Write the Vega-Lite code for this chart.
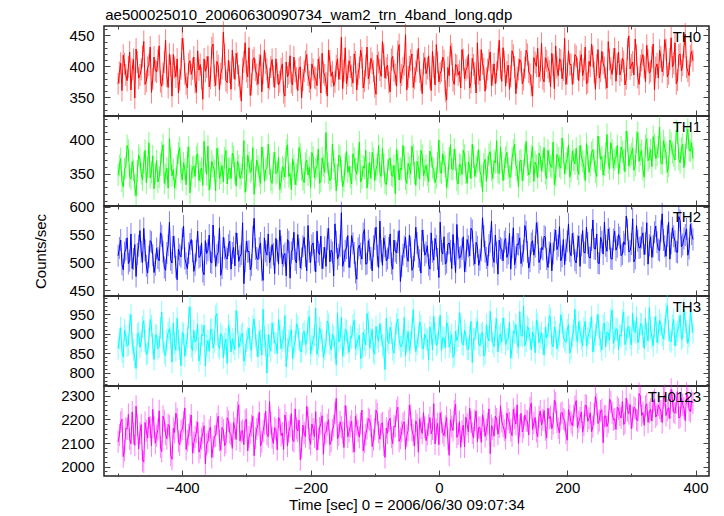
{
"$schema":"https://vega.github.io/schema/vega-lite/v6.json",
"padding":{"left":33,"top":8,"right":10,"bottom":5},
"title":{"text":"ae500025010_20060630090734_wam2_trn_4band_long.qdp","anchor":"start","dx":72,"offset":-3,"fontSize":15,"fontWeight":"normal","font":"Liberation Sans","color":"#000"},
"bounds":"flush",
"spacing":0,
"data":{"values":[
{"t":-500,"a":372,"b":348,"c":512,"d":862,"e":2105},
{"t":-496,"a":405,"b":372,"c":540,"d":915,"e":2188},
{"t":-492,"a":418,"b":331,"c":487,"d":840,"e":2042},
{"t":-488,"a":386,"b":360,"c":523,"d":893,"e":2163},
{"t":-484,"a":399,"b":384,"c":498,"d":871,"e":2221},
{"t":-480,"a":362,"b":342,"c":551,"d":948,"e":2097},
{"t":-476,"a":411,"b":355,"c":506,"d":858,"e":2140},
{"t":-472,"a":428,"b":318,"c":475,"d":811,"e":2256},
{"t":-468,"a":381,"b":377,"c":530,"d":902,"e":2075},
{"t":-464,"a":395,"b":350,"c":519,"d":879,"e":2178},
{"t":-460,"a":440,"b":366,"c":561,"d":933,"e":2019},
{"t":-456,"a":376,"b":337,"c":494,"d":846,"e":2152},
{"t":-452,"a":402,"b":395,"c":510,"d":887,"e":2210},
{"t":-448,"a":358,"b":352,"c":536,"d":920,"e":2088},
{"t":-444,"a":415,"b":328,"c":482,"d":834,"e":2167},
{"t":-440,"a":391,"b":369,"c":525,"d":897,"e":2131},
{"t":-436,"a":433,"b":345,"c":503,"d":866,"e":2237},
{"t":-432,"a":368,"b":381,"c":548,"d":955,"e":2064},
{"t":-428,"a":407,"b":336,"c":491,"d":851,"e":2195},
{"t":-424,"a":384,"b":358,"c":517,"d":884,"e":2118},
{"t":-420,"a":420,"b":401,"c":572,"d":912,"e":2172},
{"t":-416,"a":352,"b":347,"c":499,"d":827,"e":2031},
{"t":-412,"a":398,"b":329,"c":528,"d":875,"e":2145},
{"t":-408,"a":412,"b":363,"c":469,"d":939,"e":2203},
{"t":-404,"a":379,"b":388,"c":514,"d":860,"e":2092},
{"t":-400,"a":445,"b":341,"c":543,"d":903,"e":2158},
{"t":-396,"a":388,"b":356,"c":507,"d":842,"e":2249},
{"t":-392,"a":365,"b":374,"c":489,"d":889,"e":2110},
{"t":-388,"a":409,"b":322,"c":533,"d":968,"e":2176},
{"t":-384,"a":396,"b":359,"c":520,"d":856,"e":2057},
{"t":-380,"a":374,"b":346,"c":496,"d":878,"e":2124},
{"t":-376,"a":425,"b":379,"c":556,"d":925,"e":2189},
{"t":-372,"a":403,"b":353,"c":511,"d":848,"e":2079},
{"t":-368,"a":347,"b":333,"c":484,"d":895,"e":2141},
{"t":-364,"a":392,"b":367,"c":539,"d":817,"e":2012},
{"t":-360,"a":416,"b":390,"c":522,"d":882,"e":2106},
{"t":-356,"a":381,"b":344,"c":501,"d":910,"e":2168},
{"t":-352,"a":436,"b":361,"c":567,"d":863,"e":2083},
{"t":-348,"a":369,"b":325,"c":493,"d":944,"e":2130},
{"t":-344,"a":401,"b":372,"c":518,"d":869,"e":2214},
{"t":-340,"a":388,"b":351,"c":477,"d":900,"e":2069},
{"t":-336,"a":455,"b":338,"c":545,"d":838,"e":2155},
{"t":-332,"a":377,"b":384,"c":509,"d":886,"e":2101},
{"t":-328,"a":410,"b":357,"c":531,"d":921,"e":2192},
{"t":-324,"a":363,"b":343,"c":488,"d":853,"e":2136},
{"t":-320,"a":398,"b":375,"c":527,"d":874,"e":2187},
{"t":-316,"a":421,"b":332,"c":553,"d":959,"e":2115},
{"t":-312,"a":385,"b":362,"c":502,"d":864,"e":2262},
{"t":-308,"a":344,"b":349,"c":515,"d":896,"e":2148},
{"t":-304,"a":407,"b":398,"c":462,"d":829,"e":2093},
{"t":-300,"a":392,"b":341,"c":538,"d":881,"e":2201},
{"t":-296,"a":430,"b":366,"c":520,"d":914,"e":2126},
{"t":-292,"a":371,"b":355,"c":495,"d":857,"e":2173},
{"t":-288,"a":414,"b":320,"c":579,"d":937,"e":2046},
{"t":-284,"a":387,"b":370,"c":508,"d":870,"e":2159},
{"t":-280,"a":402,"b":347,"c":526,"d":906,"e":2231},
{"t":-276,"a":359,"b":389,"c":486,"d":845,"e":2104},
{"t":-272,"a":426,"b":339,"c":544,"d":891,"e":2181},
{"t":-268,"a":395,"b":358,"c":513,"d":799,"e":2137},
{"t":-264,"a":380,"b":364,"c":499,"d":868,"e":2276},
{"t":-260,"a":411,"b":336,"c":532,"d":927,"e":2122},
{"t":-256,"a":366,"b":381,"c":480,"d":876,"e":2165},
{"t":-252,"a":389,"b":352,"c":521,"d":850,"e":2071},
{"t":-248,"a":375,"b":327,"c":558,"d":908,"e":2198},
{"t":-244,"a":404,"b":360,"c":497,"d":882,"e":2143},
{"t":-240,"a":352,"b":345,"c":516,"d":946,"e":2219},
{"t":-236,"a":383,"b":392,"c":541,"d":861,"e":2087},
{"t":-232,"a":417,"b":350,"c":472,"d":894,"e":2170},
{"t":-228,"a":370,"b":371,"c":524,"d":835,"e":2112},
{"t":-224,"a":392,"b":334,"c":505,"d":880,"e":2245},
{"t":-220,"a":361,"b":356,"c":550,"d":918,"e":2151},
{"t":-216,"a":399,"b":379,"c":490,"d":855,"e":2029},
{"t":-212,"a":378,"b":342,"c":529,"d":899,"e":2176},
{"t":-208,"a":408,"b":365,"c":511,"d":872,"e":2127},
{"t":-204,"a":386,"b":348,"c":566,"d":930,"e":2206},
{"t":-200,"a":364,"b":330,"c":500,"d":848,"e":2094},
{"t":-196,"a":395,"b":374,"c":535,"d":885,"e":2160},
{"t":-192,"a":381,"b":357,"c":483,"d":965,"e":2233},
{"t":-188,"a":412,"b":386,"c":519,"d":866,"e":2118},
{"t":-184,"a":357,"b":339,"c":547,"d":903,"e":2184},
{"t":-180,"a":390,"b":362,"c":508,"d":839,"e":2052},
{"t":-176,"a":373,"b":410,"c":493,"d":877,"e":2146},
{"t":-172,"a":426,"b":351,"c":561,"d":923,"e":2199},
{"t":-168,"a":384,"b":343,"c":522,"d":858,"e":2108},
{"t":-164,"a":368,"b":368,"c":476,"d":892,"e":2173},
{"t":-160,"a":401,"b":325,"c":537,"d":820,"e":2289},
{"t":-156,"a":379,"b":377,"c":514,"d":879,"e":2134},
{"t":-152,"a":447,"b":354,"c":589,"d":942,"e":2167},
{"t":-148,"a":393,"b":340,"c":503,"d":869,"e":2081},
{"t":-144,"a":372,"b":383,"c":526,"d":907,"e":2212},
{"t":-140,"a":409,"b":361,"c":491,"d":852,"e":2149},
{"t":-136,"a":385,"b":335,"c":548,"d":888,"e":2193},
{"t":-132,"a":420,"b":372,"c":517,"d":934,"e":2062},
{"t":-128,"a":362,"b":349,"c":470,"d":873,"e":2177},
{"t":-124,"a":398,"b":396,"c":531,"d":896,"e":2125},
{"t":-120,"a":414,"b":344,"c":506,"d":841,"e":2240},
{"t":-116,"a":376,"b":358,"c":559,"d":884,"e":2103},
{"t":-112,"a":431,"b":329,"c":498,"d":951,"e":2162},
{"t":-108,"a":389,"b":366,"c":523,"d":863,"e":2198},
{"t":-104,"a":405,"b":381,"c":485,"d":910,"e":2085},
{"t":-100,"a":367,"b":340,"c":542,"d":847,"e":2157},
{"t":-96,"a":418,"b":363,"c":512,"d":890,"e":2224},
{"t":-92,"a":394,"b":352,"c":574,"d":926,"e":2116},
{"t":-88,"a":440,"b":387,"c":495,"d":871,"e":2186},
{"t":-84,"a":381,"b":337,"c":529,"d":808,"e":2039},
{"t":-80,"a":402,"b":355,"c":507,"d":883,"e":2141},
{"t":-76,"a":359,"b":373,"c":551,"d":916,"e":2205},
{"t":-72,"a":416,"b":346,"c":488,"d":859,"e":2097},
{"t":-68,"a":387,"b":321,"c":520,"d":898,"e":2169},
{"t":-64,"a":424,"b":369,"c":536,"d":937,"e":2252},
{"t":-60,"a":373,"b":358,"c":466,"d":867,"e":2120},
{"t":-56,"a":397,"b":391,"c":514,"d":881,"e":2182},
{"t":-52,"a":451,"b":342,"c":545,"d":843,"e":2074},
{"t":-48,"a":383,"b":365,"c":502,"d":905,"e":2153},
{"t":-44,"a":410,"b":350,"c":527,"d":876,"e":2218},
{"t":-40,"a":366,"b":378,"c":492,"d":961,"e":2133},
{"t":-36,"a":392,"b":333,"c":563,"d":854,"e":2194},
{"t":-32,"a":429,"b":360,"c":510,"d":893,"e":2061},
{"t":-28,"a":378,"b":384,"c":481,"d":920,"e":2164},
{"t":-24,"a":404,"b":347,"c":539,"d":862,"e":2229},
{"t":-20,"a":388,"b":362,"c":518,"d":887,"e":2110},
{"t":-16,"a":417,"b":338,"c":496,"d":832,"e":2175},
{"t":-12,"a":361,"b":375,"c":553,"d":901,"e":2139},
{"t":-8,"a":399,"b":356,"c":504,"d":944,"e":2267},
{"t":-4,"a":435,"b":344,"c":530,"d":870,"e":2156},
{"t":0,"a":375,"b":399,"c":473,"d":912,"e":2093},
{"t":4,"a":393,"b":351,"c":521,"d":856,"e":2188},
{"t":8,"a":409,"b":367,"c":546,"d":889,"e":2131},
{"t":12,"a":346,"b":330,"c":500,"d":928,"e":2209},
{"t":16,"a":385,"b":373,"c":535,"d":865,"e":2048},
{"t":20,"a":420,"b":357,"c":489,"d":897,"e":2170},
{"t":24,"a":371,"b":386,"c":515,"d":845,"e":2236},
{"t":28,"a":401,"b":341,"c":568,"d":882,"e":2124},
{"t":32,"a":392,"b":364,"c":508,"d":953,"e":2191},
{"t":36,"a":427,"b":349,"c":524,"d":874,"e":2150},
{"t":40,"a":380,"b":377,"c":483,"d":908,"e":2083},
{"t":44,"a":398,"b":336,"c":541,"d":860,"e":2179},
{"t":48,"a":365,"b":359,"c":512,"d":894,"e":2247},
{"t":52,"a":413,"b":393,"c":557,"d":826,"e":2142},
{"t":56,"a":389,"b":346,"c":497,"d":885,"e":2197},
{"t":60,"a":438,"b":368,"c":528,"d":932,"e":2106},
{"t":64,"a":377,"b":353,"c":505,"d":868,"e":2165},
{"t":68,"a":404,"b":324,"c":580,"d":903,"e":2220},
{"t":72,"a":360,"b":371,"c":519,"d":849,"e":2128},
{"t":76,"a":395,"b":360,"c":494,"d":891,"e":2183},
{"t":80,"a":423,"b":382,"c":537,"d":957,"e":2055},
{"t":84,"a":386,"b":343,"c":511,"d":877,"e":2161},
{"t":88,"a":372,"b":366,"c":549,"d":913,"e":2214},
{"t":92,"a":411,"b":352,"c":479,"d":853,"e":2137},
{"t":96,"a":397,"b":389,"c":526,"d":899,"e":2258},
{"t":100,"a":430,"b":340,"c":503,"d":940,"e":2172},
{"t":104,"a":368,"b":374,"c":543,"d":872,"e":2119},
{"t":108,"a":402,"b":358,"c":516,"d":886,"e":2201},
{"t":112,"a":384,"b":345,"c":488,"d":837,"e":2153},
{"t":116,"a":418,"b":384,"c":562,"d":906,"e":2243},
{"t":120,"a":356,"b":363,"c":509,"d":923,"e":2180},
{"t":124,"a":395,"b":331,"c":532,"d":864,"e":2098},
{"t":128,"a":407,"b":370,"c":498,"d":895,"e":2226},
{"t":132,"a":379,"b":355,"c":521,"d":970,"e":2167},
{"t":136,"a":426,"b":397,"c":555,"d":881,"e":2195},
{"t":140,"a":391,"b":348,"c":490,"d":911,"e":2134},
{"t":144,"a":369,"b":376,"c":534,"d":858,"e":2270},
{"t":148,"a":414,"b":339,"c":513,"d":892,"e":2185},
{"t":152,"a":400,"b":362,"c":571,"d":935,"e":2149},
{"t":156,"a":383,"b":380,"c":500,"d":876,"e":2212},
{"t":160,"a":437,"b":354,"c":527,"d":902,"e":2176},
{"t":164,"a":375,"b":388,"c":547,"d":845,"e":2238},
{"t":168,"a":409,"b":343,"c":506,"d":889,"e":2121},
{"t":172,"a":392,"b":369,"c":518,"d":946,"e":2204},
{"t":176,"a":421,"b":359,"c":485,"d":873,"e":2160},
{"t":180,"a":364,"b":334,"c":540,"d":917,"e":2282},
{"t":184,"a":398,"b":378,"c":523,"d":861,"e":2189},
{"t":188,"a":412,"b":361,"c":564,"d":898,"e":2143},
{"t":192,"a":380,"b":402,"c":511,"d":927,"e":2231},
{"t":196,"a":445,"b":350,"c":496,"d":883,"e":2196},
{"t":200,"a":388,"b":372,"c":538,"d":909,"e":2112},
{"t":204,"a":403,"b":345,"c":520,"d":850,"e":2218},
{"t":208,"a":371,"b":383,"c":552,"d":894,"e":2174},
{"t":212,"a":419,"b":364,"c":504,"d":962,"e":2255},
{"t":216,"a":396,"b":357,"c":529,"d":878,"e":2165},
{"t":220,"a":408,"b":391,"c":493,"d":905,"e":2207},
{"t":224,"a":385,"b":368,"c":557,"d":869,"e":2146},
{"t":228,"a":431,"b":340,"c":517,"d":931,"e":2261},
{"t":232,"a":374,"b":376,"c":535,"d":888,"e":2192},
{"t":236,"a":400,"b":362,"c":508,"d":915,"e":2228},
{"t":240,"a":416,"b":385,"c":576,"d":853,"e":2169},
{"t":244,"a":363,"b":353,"c":524,"d":897,"e":2297},
{"t":248,"a":427,"b":405,"c":499,"d":949,"e":2183},
{"t":252,"a":392,"b":371,"c":545,"d":880,"e":2236},
{"t":256,"a":405,"b":348,"c":515,"d":920,"e":2101},
{"t":260,"a":381,"b":380,"c":530,"d":866,"e":2215},
{"t":264,"a":440,"b":366,"c":560,"d":901,"e":2188},
{"t":268,"a":397,"b":395,"c":507,"d":938,"e":2274},
{"t":272,"a":412,"b":358,"c":541,"d":875,"e":2199},
{"t":276,"a":376,"b":374,"c":522,"d":912,"e":2158},
{"t":280,"a":423,"b":350,"c":550,"d":859,"e":2244},
{"t":284,"a":393,"b":389,"c":512,"d":893,"e":2206},
{"t":288,"a":408,"b":370,"c":537,"d":955,"e":2179},
{"t":292,"a":380,"b":412,"c":583,"d":884,"e":2291},
{"t":296,"a":449,"b":361,"c":519,"d":918,"e":2224},
{"t":300,"a":402,"b":379,"c":533,"d":871,"e":2161},
{"t":304,"a":386,"b":355,"c":501,"d":906,"e":2252},
{"t":308,"a":418,"b":396,"c":566,"d":942,"e":2198},
{"t":312,"a":371,"b":368,"c":526,"d":887,"e":2310},
{"t":316,"a":410,"b":384,"c":544,"d":924,"e":2217},
{"t":320,"a":398,"b":345,"c":514,"d":862,"e":2175},
{"t":324,"a":434,"b":401,"c":571,"d":899,"e":2266},
{"t":328,"a":389,"b":373,"c":531,"d":966,"e":2230},
{"t":332,"a":415,"b":360,"c":509,"d":890,"e":2193},
{"t":336,"a":362,"b":392,"c":554,"d":915,"e":2285},
{"t":340,"a":404,"b":377,"c":536,"d":877,"e":2221},
{"t":344,"a":426,"b":418,"c":521,"d":934,"e":2248},
{"t":348,"a":391,"b":364,"c":587,"d":896,"e":2187},
{"t":352,"a":443,"b":388,"c":529,"d":910,"e":2302},
{"t":356,"a":383,"b":352,"c":548,"d":972,"e":2239},
{"t":360,"a":412,"b":399,"c":506,"d":883,"e":2204},
{"t":364,"a":399,"b":381,"c":562,"d":921,"e":2279},
{"t":368,"a":438,"b":370,"c":538,"d":868,"e":2226},
{"t":372,"a":378,"b":409,"c":518,"d":905,"e":2318},
{"t":376,"a":420,"b":366,"c":575,"d":947,"e":2211},
{"t":380,"a":402,"b":393,"c":532,"d":891,"e":2262},
{"t":384,"a":452,"b":378,"c":549,"d":929,"e":2195},
{"t":388,"a":392,"b":415,"c":513,"d":875,"e":2296},
{"t":392,"a":417,"b":383,"c":568,"d":958,"e":2233},
{"t":396,"a":409,"b":372,"c":541,"d":902,"e":2270},
{"t":-498,"a":390,"b":362,"c":526,"d":887,"e":2134},
{"t":-494,"a":361,"b":339,"c":497,"d":853,"e":2201},
{"t":-490,"a":404,"b":357,"c":518,"d":909,"e":2068},
{"t":-486,"a":377,"b":391,"c":544,"d":868,"e":2159},
{"t":-482,"a":423,"b":346,"c":503,"d":924,"e":2117},
{"t":-478,"a":395,"b":368,"c":489,"d":876,"e":2232},
{"t":-474,"a":349,"b":333,"c":532,"d":839,"e":2090},
{"t":-470,"a":407,"b":354,"c":515,"d":898,"e":2175},
{"t":-466,"a":386,"b":372,"c":557,"d":865,"e":2143},
{"t":-462,"a":416,"b":341,"c":500,"d":917,"e":2026},
{"t":-458,"a":371,"b":384,"c":522,"d":881,"e":2187},
{"t":-454,"a":398,"b":359,"c":481,"d":850,"e":2121},
{"t":-450,"a":431,"b":344,"c":539,"d":936,"e":2168},
{"t":-446,"a":380,"b":376,"c":513,"d":872,"e":2243},
{"t":-442,"a":393,"b":350,"c":496,"d":895,"e":2099},
{"t":-438,"a":410,"b":338,"c":508,"d":861,"e":2156},
{"t":-434,"a":375,"b":363,"c":553,"d":914,"e":2083},
{"t":-430,"a":388,"b":392,"c":519,"d":878,"e":2214},
{"t":-426,"a":442,"b":349,"c":486,"d":843,"e":2137},
{"t":-422,"a":366,"b":329,"c":531,"d":903,"e":2179},
{"t":-418,"a":401,"b":371,"c":505,"d":889,"e":2048},
{"t":-414,"a":419,"b":356,"c":547,"d":927,"e":2162},
{"t":-410,"a":383,"b":343,"c":492,"d":857,"e":2226},
{"t":-406,"a":357,"b":380,"c":524,"d":883,"e":2108},
{"t":-402,"a":396,"b":352,"c":510,"d":818,"e":2151},
{"t":-398,"a":428,"b":366,"c":565,"d":899,"e":2190},
{"t":-394,"a":372,"b":334,"c":498,"d":872,"e":2073},
{"t":-390,"a":404,"b":389,"c":517,"d":941,"e":2135},
{"t":-386,"a":387,"b":347,"c":541,"d":866,"e":2219},
{"t":-382,"a":415,"b":361,"c":484,"d":908,"e":2102},
{"t":-378,"a":358,"b":375,"c":521,"d":884,"e":2147},
{"t":-374,"a":394,"b":340,"c":509,"d":830,"e":2061},
{"t":-370,"a":381,"b":358,"c":535,"d":896,"e":2118},
{"t":-366,"a":412,"b":397,"c":478,"d":921,"e":2173},
{"t":-362,"a":399,"b":349,"c":516,"d":870,"e":2095},
{"t":-358,"a":367,"b":326,"c":549,"d":855,"e":2154},
{"t":-354,"a":430,"b":368,"c":499,"d":911,"e":2039},
{"t":-350,"a":385,"b":355,"c":528,"d":879,"e":2128},
{"t":-346,"a":408,"b":387,"c":513,"d":951,"e":2181},
{"t":-342,"a":362,"b":343,"c":562,"d":862,"e":2112},
{"t":-338,"a":397,"b":362,"c":490,"d":893,"e":2166},
{"t":-334,"a":419,"b":373,"c":525,"d":874,"e":2089},
{"t":-330,"a":374,"b":335,"c":506,"d":824,"e":2207},
{"t":-326,"a":391,"b":358,"c":538,"d":905,"e":2144},
{"t":-322,"a":426,"b":380,"c":517,"d":887,"e":2077},
{"t":-318,"a":379,"b":351,"c":494,"d":859,"e":2162},
{"t":-314,"a":405,"b":368,"c":533,"d":929,"e":2229},
{"t":-310,"a":367,"b":343,"c":511,"d":877,"e":2109},
{"t":-306,"a":396,"b":359,"c":571,"d":901,"e":2153},
{"t":-302,"a":438,"b":323,"c":502,"d":846,"e":2196},
{"t":-298,"a":383,"b":377,"c":519,"d":888,"e":2066},
{"t":-294,"a":353,"b":352,"c":487,"d":865,"e":2144},
{"t":-290,"a":410,"b":388,"c":546,"d":919,"e":2213},
{"t":-286,"a":394,"b":345,"c":524,"d":892,"e":2120},
{"t":-282,"a":371,"b":361,"c":505,"d":840,"e":2178},
{"t":-278,"a":418,"b":336,"c":535,"d":883,"e":2087},
{"t":-274,"a":389,"b":373,"c":468,"d":962,"e":2150},
{"t":-270,"a":405,"b":356,"c":520,"d":870,"e":2235},
{"t":-266,"a":365,"b":393,"c":551,"d":897,"e":2127},
{"t":-262,"a":399,"b":341,"c":509,"d":855,"e":2184},
{"t":-258,"a":384,"b":366,"c":515,"d":902,"e":2098},
{"t":-254,"a":412,"b":350,"c":543,"d":874,"e":2157},
{"t":-250,"a":370,"b":374,"c":497,"d":936,"e":2209},
{"t":-246,"a":396,"b":338,"c":528,"d":861,"e":2132},
{"t":-242,"a":358,"b":357,"c":512,"d":889,"e":2073},
{"t":-238,"a":407,"b":384,"c":476,"d":815,"e":2186},
{"t":-234,"a":389,"b":346,"c":537,"d":881,"e":2148},
{"t":-230,"a":374,"b":327,"c":518,"d":910,"e":2225},
{"t":-226,"a":415,"b":362,"c":554,"d":867,"e":2106},
{"t":-222,"a":381,"b":349,"c":499,"d":925,"e":2163},
{"t":-218,"a":397,"b":388,"c":523,"d":884,"e":2197},
{"t":-214,"a":349,"b":355,"c":507,"d":853,"e":2080},
{"t":-210,"a":392,"b":337,"c":545,"d":906,"e":2142},
{"t":-206,"a":419,"b":370,"c":485,"d":878,"e":2255},
{"t":-202,"a":375,"b":359,"c":519,"d":943,"e":2119},
{"t":-198,"a":404,"b":381,"c":531,"d":869,"e":2181},
{"t":-194,"a":382,"b":344,"c":504,"d":896,"e":2127},
{"t":-190,"a":369,"b":361,"c":556,"d":847,"e":2070},
{"t":-186,"a":398,"b":336,"c":514,"d":915,"e":2164},
{"t":-182,"a":421,"b":373,"c":489,"d":882,"e":2216},
{"t":-178,"a":386,"b":352,"c":527,"d":859,"e":2139},
{"t":-174,"a":352,"b":366,"c":542,"d":932,"e":2178},
{"t":-170,"a":409,"b":340,"c":501,"d":874,"e":2093},
{"t":-166,"a":391,"b":393,"c":518,"d":898,"e":2155},
{"t":-162,"a":375,"b":357,"c":569,"d":863,"e":2227},
{"t":-158,"a":412,"b":348,"c":506,"d":953,"e":2118},
{"t":-154,"a":396,"b":375,"c":530,"d":887,"e":2190},
{"t":-150,"a":364,"b":331,"c":493,"d":842,"e":2145},
{"t":-146,"a":430,"b":364,"c":521,"d":911,"e":2259},
{"t":-142,"a":385,"b":352,"c":548,"d":876,"e":2126},
{"t":-138,"a":399,"b":345,"c":510,"d":893,"e":2170},
{"t":-134,"a":373,"b":379,"c":534,"d":921,"e":2104},
{"t":-130,"a":407,"b":356,"c":482,"d":860,"e":2215},
{"t":-126,"a":388,"b":368,"c":525,"d":885,"e":2151},
{"t":-122,"a":426,"b":338,"c":516,"d":836,"e":2183},
{"t":-118,"a":365,"b":361,"c":552,"d":903,"e":2067},
{"t":-114,"a":401,"b":384,"c":497,"d":871,"e":2136},
{"t":-110,"a":380,"b":350,"c":539,"d":929,"e":2204},
{"t":-106,"a":413,"b":343,"c":508,"d":887,"e":2172},
{"t":-102,"a":392,"b":372,"c":529,"d":852,"e":2114},
{"t":-98,"a":355,"b":357,"c":563,"d":918,"e":2239},
{"t":-94,"a":406,"b":391,"c":491,"d":880,"e":2146},
{"t":-90,"a":384,"b":346,"c":520,"d":897,"e":2180},
{"t":-86,"a":419,"b":363,"c":544,"d":864,"e":2092},
{"t":-82,"a":397,"b":334,"c":503,"d":939,"e":2163},
{"t":-78,"a":374,"b":370,"c":526,"d":875,"e":2195},
{"t":-74,"a":411,"b":348,"c":498,"d":902,"e":2125},
{"t":-70,"a":393,"b":362,"c":540,"d":850,"e":2172},
{"t":-66,"a":368,"b":385,"c":517,"d":924,"e":2238},
{"t":-62,"a":435,"b":341,"c":557,"d":885,"e":2107},
{"t":-58,"a":386,"b":356,"c":493,"d":867,"e":2149},
{"t":-54,"a":403,"b":374,"c":528,"d":941,"e":2190},
{"t":-50,"a":362,"b":336,"c":511,"d":879,"e":2132},
{"t":-46,"a":399,"b":359,"c":549,"d":856,"e":2261},
{"t":-42,"a":420,"b":390,"c":486,"d":913,"e":2155},
{"t":-38,"a":381,"b":351,"c":522,"d":890,"e":2088},
{"t":-34,"a":409,"b":368,"c":535,"d":873,"e":2177},
{"t":-30,"a":391,"b":342,"c":504,"d":930,"e":2203},
{"t":-26,"a":356,"b":377,"c":558,"d":862,"e":2141},
{"t":-22,"a":414,"b":355,"c":513,"d":899,"e":2166},
{"t":-18,"a":397,"b":348,"c":530,"d":884,"e":2137},
{"t":-14,"a":382,"b":383,"c":488,"d":917,"e":2208},
{"t":-10,"a":424,"b":359,"c":519,"d":858,"e":2159},
{"t":-6,"a":370,"b":337,"c":543,"d":901,"e":2096},
{"t":-2,"a":406,"b":366,"c":506,"d":876,"e":2183},
{"t":2,"a":389,"b":352,"c":572,"d":947,"e":2228},
{"t":6,"a":415,"b":379,"c":515,"d":889,"e":2144},
{"t":10,"a":360,"b":361,"c":497,"d":864,"e":2171},
{"t":14,"a":398,"b":344,"c":533,"d":920,"e":2115},
{"t":18,"a":433,"b":392,"c":521,"d":879,"e":2199},
{"t":22,"a":377,"b":356,"c":550,"d":839,"e":2153},
{"t":26,"a":403,"b":370,"c":482,"d":906,"e":2265},
{"t":30,"a":386,"b":335,"c":525,"d":893,"e":2138},
{"t":34,"a":365,"b":362,"c":510,"d":926,"e":2082},
{"t":38,"a":411,"b":384,"c":546,"d":871,"e":2176},
{"t":42,"a":394,"b":351,"c":502,"d":897,"e":2210},
{"t":46,"a":419,"b":367,"c":529,"d":860,"e":2148},
{"t":50,"a":374,"b":343,"c":561,"d":931,"e":2189},
{"t":54,"a":402,"b":374,"c":514,"d":886,"e":2122},
{"t":58,"a":357,"b":360,"c":536,"d":913,"e":2236},
{"t":62,"a":388,"b":385,"c":495,"d":874,"e":2166},
{"t":66,"a":427,"b":347,"c":522,"d":899,"e":2103},
{"t":70,"a":396,"b":364,"c":547,"d":842,"e":2193},
{"t":74,"a":381,"b":339,"c":508,"d":923,"e":2157},
{"t":78,"a":410,"b":378,"c":531,"d":881,"e":2245},
{"t":82,"a":369,"b":355,"c":574,"d":906,"e":2174},
{"t":86,"a":404,"b":369,"c":500,"d":867,"e":2129},
{"t":90,"a":390,"b":398,"c":518,"d":938,"e":2202},
{"t":94,"a":442,"b":350,"c":540,"d":892,"e":2168},
{"t":98,"a":376,"b":366,"c":523,"d":878,"e":2191},
{"t":102,"a":408,"b":357,"c":537,"d":912,"e":2154},
{"t":106,"a":391,"b":381,"c":509,"d":885,"e":2227},
{"t":110,"a":363,"b":346,"c":552,"d":929,"e":2186},
{"t":114,"a":425,"b":372,"c":527,"d":863,"e":2131},
{"t":118,"a":399,"b":393,"c":496,"d":901,"e":2205},
{"t":122,"a":382,"b":355,"c":533,"d":877,"e":2262},
{"t":126,"a":411,"b":368,"c":544,"d":956,"e":2173},
{"t":130,"a":372,"b":340,"c":512,"d":894,"e":2147},
{"t":134,"a":398,"b":377,"c":566,"d":869,"e":2219},
{"t":138,"a":419,"b":363,"c":519,"d":918,"e":2192},
{"t":142,"a":387,"b":352,"c":502,"d":887,"e":2250},
{"t":146,"a":352,"b":389,"c":539,"d":904,"e":2158},
{"t":150,"a":406,"b":367,"c":528,"d":851,"e":2208},
{"t":154,"a":429,"b":344,"c":553,"d":925,"e":2127},
{"t":158,"a":393,"b":375,"c":506,"d":889,"e":2236},
{"t":162,"a":380,"b":368,"c":523,"d":873,"e":2199},
{"t":166,"a":414,"b":350,"c":545,"d":916,"e":2156},
{"t":170,"a":398,"b":384,"c":491,"d":898,"e":2247},
{"t":174,"a":367,"b":361,"c":535,"d":937,"e":2213},
{"t":178,"a":402,"b":396,"c":516,"d":866,"e":2182},
{"t":182,"a":433,"b":347,"c":558,"d":905,"e":2271},
{"t":186,"a":385,"b":373,"c":530,"d":882,"e":2164},
{"t":190,"a":410,"b":358,"c":503,"d":948,"e":2225},
{"t":194,"a":394,"b":381,"c":541,"d":891,"e":2203},
{"t":198,"a":371,"b":365,"c":522,"d":877,"e":2141},
{"t":202,"a":425,"b":392,"c":569,"d":923,"e":2242},
{"t":206,"a":403,"b":354,"c":512,"d":862,"e":2187},
{"t":210,"a":389,"b":370,"c":534,"d":908,"e":2216},
{"t":214,"a":416,"b":387,"c":499,"d":893,"e":2280},
{"t":218,"a":377,"b":349,"c":547,"d":931,"e":2190},
{"t":222,"a":419,"b":376,"c":531,"d":887,"e":2232},
{"t":226,"a":395,"b":360,"c":518,"d":914,"e":2175},
{"t":230,"a":372,"b":394,"c":563,"d":868,"e":2258},
{"t":234,"a":408,"b":352,"c":509,"d":902,"e":2205},
{"t":238,"a":436,"b":381,"c":540,"d":943,"e":2148},
{"t":242,"a":390,"b":369,"c":525,"d":879,"e":2223},
{"t":246,"a":402,"b":346,"c":551,"d":921,"e":2265},
{"t":250,"a":381,"b":388,"c":498,"d":896,"e":2196},
{"t":254,"a":424,"b":375,"c":537,"d":858,"e":2241},
{"t":258,"a":398,"b":362,"c":572,"d":927,"e":2214},
{"t":262,"a":365,"b":407,"c":520,"d":904,"e":2170},
{"t":266,"a":411,"b":357,"c":543,"d":883,"e":2286},
{"t":270,"a":387,"b":384,"c":506,"d":960,"e":2227},
{"t":274,"a":429,"b":370,"c":556,"d":889,"e":2202},
{"t":278,"a":404,"b":391,"c":528,"d":911,"e":2253},
{"t":282,"a":386,"b":365,"c":544,"d":897,"e":2219},
{"t":286,"a":413,"b":382,"c":515,"d":934,"e":2276},
{"t":290,"a":370,"b":353,"c":532,"d":872,"e":2184},
{"t":294,"a":428,"b":397,"c":559,"d":916,"e":2238},
{"t":298,"a":396,"b":374,"c":521,"d":888,"e":2263},
{"t":302,"a":407,"b":387,"c":578,"d":952,"e":2208},
{"t":306,"a":444,"b":362,"c":507,"d":903,"e":2247},
{"t":310,"a":382,"b":410,"c":539,"d":876,"e":2195},
{"t":314,"a":401,"b":378,"c":527,"d":925,"e":2299},
{"t":318,"a":419,"b":356,"c":553,"d":893,"e":2229},
{"t":322,"a":375,"b":391,"c":534,"d":939,"e":2256},
{"t":326,"a":410,"b":369,"c":497,"d":881,"e":2188},
{"t":330,"a":392,"b":385,"c":546,"d":912,"e":2243},
{"t":334,"a":436,"b":404,"c":529,"d":869,"e":2274},
{"t":338,"a":398,"b":372,"c":565,"d":944,"e":2210},
{"t":342,"a":381,"b":389,"c":523,"d":900,"e":2261},
{"t":346,"a":415,"b":366,"c":556,"d":923,"e":2236},
{"t":350,"a":402,"b":398,"c":540,"d":886,"e":2292},
{"t":354,"a":427,"b":380,"c":511,"d":951,"e":2217},
{"t":358,"a":388,"b":361,"c":572,"d":908,"e":2250},
{"t":362,"a":446,"b":394,"c":534,"d":879,"e":2328},
{"t":366,"a":405,"b":376,"c":547,"d":936,"e":2232},
{"t":370,"a":372,"b":413,"c":519,"d":897,"e":2271},
{"t":374,"a":418,"b":371,"c":582,"d":919,"e":2206},
{"t":378,"a":393,"b":387,"c":528,"d":885,"e":2289},
{"t":382,"a":431,"b":359,"c":543,"d":962,"e":2248},
{"t":386,"a":399,"b":402,"c":560,"d":906,"e":2311},
{"t":390,"a":385,"b":384,"c":525,"d":893,"e":2240},
{"t":394,"a":424,"b":395,"c":551,"d":931,"e":2279}
]},
"vconcat":[
{"width":605,"height":90,
 "layer":[
  {"mark":{"type":"tick","orient":"vertical","size":22,"thickness":1,"color":"#ff0000","opacity":0.5},
   "encoding":{"x":{"field":"t","type":"quantitative","scale":{"domain":[-522,421],"nice":false,"zero":false},"axis":{"orient":"bottom","values":[-400,-200,0,200,400],"labels":false,"title":null}},
    "y":{"field":"a","type":"quantitative","scale":{"domain":[320,465],"nice":false,"zero":false},"axis":{"orient":"left","values":[350,400,450],"format":"d","title":null}}}},
  {"mark":{"type":"line","color":"#ff0000","strokeWidth":1},
   "encoding":{"x":{"field":"t","type":"quantitative","scale":{"domain":[-522,421],"nice":false,"zero":false},"axis":{"orient":"top","values":[-400,-200,0,200,400],"labels":false,"title":null}},
    "y":{"field":"a","type":"quantitative","scale":{"domain":[320,465],"nice":false,"zero":false},"axis":{"orient":"left","values":[330,340,360,370,380,390,410,420,430,440,460],"labels":false,"tickSize":-3,"title":null}}}},
  {"mark":{"type":"point","opacity":0},
   "encoding":{"x":{"field":"t","type":"quantitative","scale":{"domain":[-522,421],"nice":false,"zero":false},"axis":{"orient":"bottom","values":[-500,-300,-100,100,300],"labels":false,"tickSize":-3,"title":null}},
    "y":{"field":"a","type":"quantitative","scale":{"domain":[320,465],"nice":false,"zero":false},"axis":{"orient":"right","values":[350,400,450],"labels":false,"title":null}}}},
  {"mark":{"type":"point","opacity":0},
   "encoding":{"x":{"field":"t","type":"quantitative","scale":{"domain":[-522,421],"nice":false,"zero":false},"axis":{"orient":"top","values":[-500,-300,-100,100,300],"labels":false,"tickSize":-3,"title":null}},
    "y":{"field":"a","type":"quantitative","scale":{"domain":[320,465],"nice":false,"zero":false},"axis":{"orient":"right","values":[330,340,360,370,380,390,410,420,430,440,460],"labels":false,"tickSize":-3,"title":null}}}},
  {"data":{"values":[{"label":"TH0"}]},
   "mark":{"type":"text","align":"right","baseline":"alphabetic","dx":-8,"dy":16,"fontSize":15,"font":"Liberation Sans","color":"#000"},
   "encoding":{"text":{"field":"label"},"x":{"datum":421,"type":"quantitative","scale":{"domain":[-522,421],"nice":false,"zero":false},"axis":null},
    "y":{"datum":465,"type":"quantitative","scale":{"domain":[320,465],"nice":false,"zero":false},"axis":null}}}
 ],
 "resolve":{"axis":{"x":"independent","y":"independent"}}
},
{"width":605,"height":90,
 "layer":[
  {"mark":{"type":"tick","orient":"vertical","size":22,"thickness":1,"color":"#00ff00","opacity":0.5},
   "encoding":{"x":{"field":"t","type":"quantitative","scale":{"domain":[-522,421],"nice":false,"zero":false},"axis":{"orient":"bottom","values":[-400,-200,0,200,400],"labels":false,"title":null}},
    "y":{"field":"b","type":"quantitative","scale":{"domain":[303,434],"nice":false,"zero":false},"axis":{"orient":"left","values":[350,400],"format":"d","title":null}}}},
  {"mark":{"type":"line","color":"#00ff00","strokeWidth":1},
   "encoding":{"x":{"field":"t","type":"quantitative","scale":{"domain":[-522,421],"nice":false,"zero":false},"axis":{"orient":"top","values":[-400,-200,0,200,400],"labels":false,"title":null}},
    "y":{"field":"b","type":"quantitative","scale":{"domain":[303,434],"nice":false,"zero":false},"axis":{"orient":"left","values":[310,320,330,340,360,370,380,390,410,420,430],"labels":false,"tickSize":-3,"title":null}}}},
  {"mark":{"type":"point","opacity":0},
   "encoding":{"x":{"field":"t","type":"quantitative","scale":{"domain":[-522,421],"nice":false,"zero":false},"axis":{"orient":"bottom","values":[-500,-300,-100,100,300],"labels":false,"tickSize":-3,"title":null}},
    "y":{"field":"b","type":"quantitative","scale":{"domain":[303,434],"nice":false,"zero":false},"axis":{"orient":"right","values":[350,400],"labels":false,"title":null}}}},
  {"mark":{"type":"point","opacity":0},
   "encoding":{"x":{"field":"t","type":"quantitative","scale":{"domain":[-522,421],"nice":false,"zero":false},"axis":{"orient":"top","values":[-500,-300,-100,100,300],"labels":false,"tickSize":-3,"title":null}},
    "y":{"field":"b","type":"quantitative","scale":{"domain":[303,434],"nice":false,"zero":false},"axis":{"orient":"right","values":[310,320,330,340,360,370,380,390,410,420,430],"labels":false,"tickSize":-3,"title":null}}}},
  {"data":{"values":[{"label":"TH1"}]},
   "mark":{"type":"text","align":"right","baseline":"alphabetic","dx":-8,"dy":16,"fontSize":15,"font":"Liberation Sans","color":"#000"},
   "encoding":{"text":{"field":"label"},"x":{"datum":421,"type":"quantitative","scale":{"domain":[-522,421],"nice":false,"zero":false},"axis":null},
    "y":{"datum":434,"type":"quantitative","scale":{"domain":[303,434],"nice":false,"zero":false},"axis":null}}}
 ],
 "resolve":{"axis":{"x":"independent","y":"independent"}}
},
{"width":605,"height":90,
 "layer":[
  {"mark":{"type":"tick","orient":"vertical","size":22,"thickness":1,"color":"#0000ff","opacity":0.5},
   "encoding":{"x":{"field":"t","type":"quantitative","scale":{"domain":[-522,421],"nice":false,"zero":false},"axis":{"orient":"bottom","values":[-400,-200,0,200,400],"labels":false,"title":null}},
    "y":{"field":"c","type":"quantitative","scale":{"domain":[440,601],"nice":false,"zero":false},"axis":{"orient":"left","values":[450,500,550,600],"format":"d","title":"Counts/sec","titlePadding":20}}}},
  {"mark":{"type":"line","color":"#0000ff","strokeWidth":1},
   "encoding":{"x":{"field":"t","type":"quantitative","scale":{"domain":[-522,421],"nice":false,"zero":false},"axis":{"orient":"top","values":[-400,-200,0,200,400],"labels":false,"title":null}},
    "y":{"field":"c","type":"quantitative","scale":{"domain":[440,601],"nice":false,"zero":false},"axis":{"orient":"left","values":[460,470,480,490,510,520,530,540,560,570,580,590],"labels":false,"tickSize":-3,"title":null}}}},
  {"mark":{"type":"point","opacity":0},
   "encoding":{"x":{"field":"t","type":"quantitative","scale":{"domain":[-522,421],"nice":false,"zero":false},"axis":{"orient":"bottom","values":[-500,-300,-100,100,300],"labels":false,"tickSize":-3,"title":null}},
    "y":{"field":"c","type":"quantitative","scale":{"domain":[440,601],"nice":false,"zero":false},"axis":{"orient":"right","values":[450,500,550,600],"labels":false,"title":null}}}},
  {"mark":{"type":"point","opacity":0},
   "encoding":{"x":{"field":"t","type":"quantitative","scale":{"domain":[-522,421],"nice":false,"zero":false},"axis":{"orient":"top","values":[-500,-300,-100,100,300],"labels":false,"tickSize":-3,"title":null}},
    "y":{"field":"c","type":"quantitative","scale":{"domain":[440,601],"nice":false,"zero":false},"axis":{"orient":"right","values":[460,470,480,490,510,520,530,540,560,570,580,590],"labels":false,"tickSize":-3,"title":null}}}},
  {"data":{"values":[{"label":"TH2"}]},
   "mark":{"type":"text","align":"right","baseline":"alphabetic","dx":-8,"dy":16,"fontSize":15,"font":"Liberation Sans","color":"#000"},
   "encoding":{"text":{"field":"label"},"x":{"datum":421,"type":"quantitative","scale":{"domain":[-522,421],"nice":false,"zero":false},"axis":null},
    "y":{"datum":601,"type":"quantitative","scale":{"domain":[440,601],"nice":false,"zero":false},"axis":null}}}
 ],
 "resolve":{"axis":{"x":"independent","y":"independent"}}
},
{"width":605,"height":90,
 "layer":[
  {"mark":{"type":"tick","orient":"vertical","size":22,"thickness":1,"color":"#00ffff","opacity":0.5},
   "encoding":{"x":{"field":"t","type":"quantitative","scale":{"domain":[-522,421],"nice":false,"zero":false},"axis":{"orient":"bottom","values":[-400,-200,0,200,400],"labels":false,"title":null}},
    "y":{"field":"d","type":"quantitative","scale":{"domain":[766,996],"nice":false,"zero":false},"axis":{"orient":"left","values":[800,850,900,950],"format":"d","title":null}}}},
  {"mark":{"type":"line","color":"#00ffff","strokeWidth":1},
   "encoding":{"x":{"field":"t","type":"quantitative","scale":{"domain":[-522,421],"nice":false,"zero":false},"axis":{"orient":"top","values":[-400,-200,0,200,400],"labels":false,"title":null}},
    "y":{"field":"d","type":"quantitative","scale":{"domain":[766,996],"nice":false,"zero":false},"axis":{"orient":"left","values":[770,780,790,810,820,830,840,860,870,880,890,910,920,930,940,960,970,980,990],"labels":false,"tickSize":-3,"title":null}}}},
  {"mark":{"type":"point","opacity":0},
   "encoding":{"x":{"field":"t","type":"quantitative","scale":{"domain":[-522,421],"nice":false,"zero":false},"axis":{"orient":"bottom","values":[-500,-300,-100,100,300],"labels":false,"tickSize":-3,"title":null}},
    "y":{"field":"d","type":"quantitative","scale":{"domain":[766,996],"nice":false,"zero":false},"axis":{"orient":"right","values":[800,850,900,950],"labels":false,"title":null}}}},
  {"mark":{"type":"point","opacity":0},
   "encoding":{"x":{"field":"t","type":"quantitative","scale":{"domain":[-522,421],"nice":false,"zero":false},"axis":{"orient":"top","values":[-500,-300,-100,100,300],"labels":false,"tickSize":-3,"title":null}},
    "y":{"field":"d","type":"quantitative","scale":{"domain":[766,996],"nice":false,"zero":false},"axis":{"orient":"right","values":[770,780,790,810,820,830,840,860,870,880,890,910,920,930,940,960,970,980,990],"labels":false,"tickSize":-3,"title":null}}}},
  {"data":{"values":[{"label":"TH3"}]},
   "mark":{"type":"text","align":"right","baseline":"alphabetic","dx":-8,"dy":16,"fontSize":15,"font":"Liberation Sans","color":"#000"},
   "encoding":{"text":{"field":"label"},"x":{"datum":421,"type":"quantitative","scale":{"domain":[-522,421],"nice":false,"zero":false},"axis":null},
    "y":{"datum":996,"type":"quantitative","scale":{"domain":[766,996],"nice":false,"zero":false},"axis":null}}}
 ],
 "resolve":{"axis":{"x":"independent","y":"independent"}}
},
{"width":605,"height":90,
 "layer":[
  {"mark":{"type":"tick","orient":"vertical","size":22,"thickness":1,"color":"#ff00ff","opacity":0.5},
   "encoding":{"x":{"field":"t","type":"quantitative","scale":{"domain":[-522,421],"nice":false,"zero":false},"axis":{"orient":"bottom","values":[-400,-200,0,200,400],"title":"Time [sec] 0 = 2006/06/30 09:07:34","titlePadding":2}},
    "y":{"field":"e","type":"quantitative","scale":{"domain":[1960,2342],"nice":false,"zero":false},"axis":{"orient":"left","values":[2000,2100,2200,2300],"format":"d","title":null}}}},
  {"mark":{"type":"line","color":"#ff00ff","strokeWidth":1},
   "encoding":{"x":{"field":"t","type":"quantitative","scale":{"domain":[-522,421],"nice":false,"zero":false},"axis":{"orient":"top","values":[-400,-200,0,200,400],"labels":false,"title":null}},
    "y":{"field":"e","type":"quantitative","scale":{"domain":[1960,2342],"nice":false,"zero":false},"axis":{"orient":"left","values":[1980,2020,2040,2060,2080,2120,2140,2160,2180,2220,2240,2260,2280,2320,2340],"labels":false,"tickSize":-3,"title":null}}}},
  {"mark":{"type":"point","opacity":0},
   "encoding":{"x":{"field":"t","type":"quantitative","scale":{"domain":[-522,421],"nice":false,"zero":false},"axis":{"orient":"bottom","values":[-500,-300,-100,100,300],"labels":false,"tickSize":-3,"title":null}},
    "y":{"field":"e","type":"quantitative","scale":{"domain":[1960,2342],"nice":false,"zero":false},"axis":{"orient":"right","values":[2000,2100,2200,2300],"labels":false,"title":null}}}},
  {"mark":{"type":"point","opacity":0},
   "encoding":{"x":{"field":"t","type":"quantitative","scale":{"domain":[-522,421],"nice":false,"zero":false},"axis":{"orient":"top","values":[-500,-300,-100,100,300],"labels":false,"tickSize":-3,"title":null}},
    "y":{"field":"e","type":"quantitative","scale":{"domain":[1960,2342],"nice":false,"zero":false},"axis":{"orient":"right","values":[1980,2020,2040,2060,2080,2120,2140,2160,2180,2220,2240,2260,2280,2320,2340],"labels":false,"tickSize":-3,"title":null}}}},
  {"data":{"values":[{"label":"TH0123"}]},
   "mark":{"type":"text","align":"right","baseline":"alphabetic","dx":-8,"dy":16,"fontSize":15,"font":"Liberation Sans","color":"#000"},
   "encoding":{"text":{"field":"label"},"x":{"datum":421,"type":"quantitative","scale":{"domain":[-522,421],"nice":false,"zero":false},"axis":null},
    "y":{"datum":2342,"type":"quantitative","scale":{"domain":[1960,2342],"nice":false,"zero":false},"axis":null}}}
 ],
 "resolve":{"axis":{"x":"independent","y":"independent"}}
}
],
"config":{
 "font":"Liberation Sans",
 "view":{"stroke":"#222","strokeWidth":1.5},
 "axis":{"domain":false,"grid":false,"tickSize":-6,"tickColor":"#444","tickWidth":1,"labelPadding":16,"labelFont":"Liberation Sans","labelFontSize":15,"labelColor":"#000","labelFlush":false,"labelOverlap":false,"titleFont":"Liberation Sans","titleFontSize":15,"titleFontWeight":"normal","titleColor":"#000"},
 "axisX":{"labelPadding":10},
 "title":{"font":"Liberation Sans","fontSize":15,"fontWeight":"normal","color":"#000"}
}
}
